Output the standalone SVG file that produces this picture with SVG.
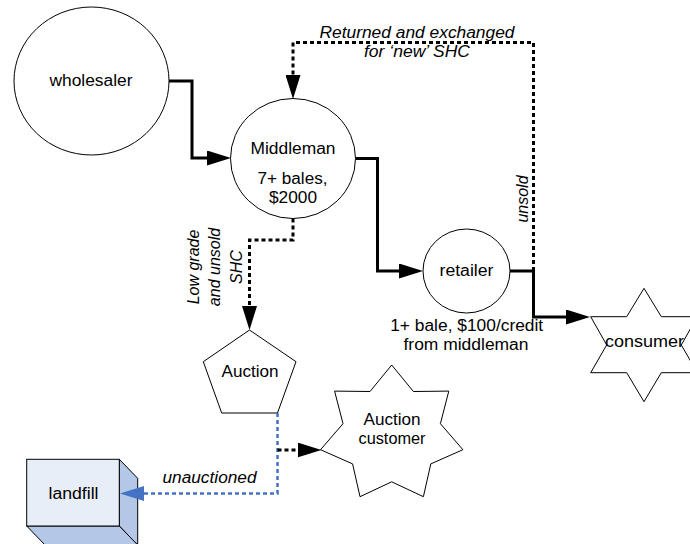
<svg xmlns="http://www.w3.org/2000/svg" width="690" height="544" viewBox="0 0 690 544">
  <style>
    .shape { fill: #ffffff; stroke: #000000; stroke-width: 1; }
    .label { font-family: "Liberation Sans", Arial, sans-serif; font-size: 16px; fill: #000000; text-anchor: middle; }
    .note { font-family: "Liberation Sans", Arial, sans-serif; font-size: 16px; font-style: italic; fill: #000000; text-anchor: middle; }
    .flow { fill: none; stroke: #000000; stroke-width: 3; stroke-linejoin: miter; }
    .dotted { fill: none; stroke: #000000; stroke-width: 3; stroke-dasharray: 4 3; }
    .dotted-blue { fill: none; stroke: #4472C4; stroke-width: 2.5; stroke-dasharray: 4 3; }
  </style>
  <defs>
    <marker id="arrow" markerUnits="userSpaceOnUse" viewBox="0 0 24 15" markerWidth="24" markerHeight="15" refX="0" refY="7.5" orient="auto">
      <path d="M0,0 L24,7.5 L0,15 Z" fill="#000000"/>
    </marker>
    <marker id="arrow-blue" markerUnits="userSpaceOnUse" viewBox="0 0 24 15" markerWidth="24" markerHeight="15" refX="0" refY="7.5" orient="auto">
      <path d="M0,0 L24,7.5 L0,15 Z" fill="#4472C4"/>
    </marker>
  </defs>

  <rect x="0" y="0" width="690" height="544" fill="#ffffff"/>

  <!-- wholesaler -->
  <g id="wholesaler">
    <ellipse class="shape" cx="91.5" cy="81" rx="77.5" ry="74"/>
    <text class="label" x="91" y="86" textLength="83" lengthAdjust="spacingAndGlyphs">wholesaler</text>
  </g>

  <!-- middleman -->
  <g id="middleman">
    <ellipse class="shape" cx="293" cy="158.5" rx="62.5" ry="60"/>
    <text class="label" x="293" y="154" textLength="85" lengthAdjust="spacingAndGlyphs">Middleman</text>
    <text class="label" x="292.5" y="184" textLength="70" lengthAdjust="spacingAndGlyphs">7+ bales,</text>
    <text class="label" x="293" y="203" textLength="48" lengthAdjust="spacingAndGlyphs">$2000</text>
  </g>

  <!-- retailer -->
  <g id="retailer">
    <ellipse class="shape" cx="466.5" cy="271" rx="43.5" ry="42"/>
    <text class="label" x="466.5" y="276" textLength="54" lengthAdjust="spacingAndGlyphs">retailer</text>
    <text class="label" x="466.7" y="331" textLength="153" lengthAdjust="spacingAndGlyphs">1+ bale, $100/credit</text>
    <text class="label" x="466" y="350" textLength="125" lengthAdjust="spacingAndGlyphs">from middleman</text>
  </g>

  <!-- consumer -->
  <g id="consumer">
    <polygon class="shape" points="644,288.3 661.3,316.7 697.3,316.7 681.3,345 697.3,372.7 661.3,372.7 644,401.7 626.7,372.7 590.7,372.7 606.7,345 590.7,316.7 626.7,316.7"/>
    <text class="label" x="644.5" y="347" textLength="79" lengthAdjust="spacingAndGlyphs">consumer</text>
  </g>

  <!-- auction -->
  <g id="auction">
    <polygon class="shape" points="249.5,330 296,361.7 277.5,413 221.7,413 203.3,361.7"/>
    <text class="label" x="250" y="377" textLength="57" lengthAdjust="spacingAndGlyphs">Auction</text>
  </g>

  <!-- auction customer -->
  <g id="auction-customer">
    <polygon class="shape" points="391.7,365 413.4,391.5 448.8,391.1 440.4,423.7 462.9,449.7 430.8,463.9 423.4,496.7 391.7,481.8 360,496.7 352.6,463.9 320.5,449.7 343,423.7 334.6,391.1 370,391.5"/>
    <text class="label" x="392" y="425" textLength="57" lengthAdjust="spacingAndGlyphs">Auction</text>
    <text class="label" x="392" y="444" textLength="67" lengthAdjust="spacingAndGlyphs">customer</text>
  </g>

  <!-- landfill: box with side and bottom faces -->
  <g id="landfill">
    <polygon points="119.3,459.3 137.7,478.3 137.7,545 119.3,526" fill="#B4C7E7" stroke="#000000" stroke-width="1"/>
    <polygon points="26.7,526 119.3,526 137.7,545 45,545" fill="#B4C7E7" stroke="#000000" stroke-width="1"/>
    <rect x="26.7" y="459.3" width="92.6" height="66.7" fill="#E8EEF8" stroke="#000000" stroke-width="1"/>
    <text class="label" x="73.5" y="498.5" textLength="50" lengthAdjust="spacingAndGlyphs">landfill</text>
  </g>

  <!-- connectors, drawn on top of the shapes -->
  <g id="connectors">
    <path class="flow" d="M169,81 H192 V158 H207" marker-end="url(#arrow)"/>
    <path class="flow" d="M355.5,158.5 H377.5 V271 H399" marker-end="url(#arrow)"/>
    <path class="flow" d="M510,271 H533.5 V317 H566" marker-end="url(#arrow)"/>
    <path class="dotted" d="M533.5,271 V42.5 H293 V75" marker-end="url(#arrow)"/>
    <path class="dotted" d="M293,218.5 V240 H249.5 V306" marker-end="url(#arrow)"/>
    <path class="dotted-blue" d="M277.5,413 V493.5 H144" marker-end="url(#arrow-blue)"/>
    <path class="dotted" d="M277.5,450 H297.5" marker-end="url(#arrow)"/>

    <text class="note" x="417" y="37.5" textLength="195" lengthAdjust="spacingAndGlyphs">Returned and exchanged</text>
    <text class="note" x="417" y="57" textLength="106" lengthAdjust="spacingAndGlyphs">for ‘new’ SHC</text>
    <text class="note" transform="translate(528,199) rotate(-90)" x="0" y="0">unsold</text>
    <g transform="translate(0,267) rotate(-90)">
      <text class="note" x="0" y="198.5">Low grade</text>
      <text class="note" x="0" y="220">and unsold</text>
      <text class="note" x="0" y="241.5">SHC</text>
    </g>
    <text class="note" x="209.5" y="483" textLength="94" lengthAdjust="spacingAndGlyphs">unauctioned</text>
  </g>
</svg>
